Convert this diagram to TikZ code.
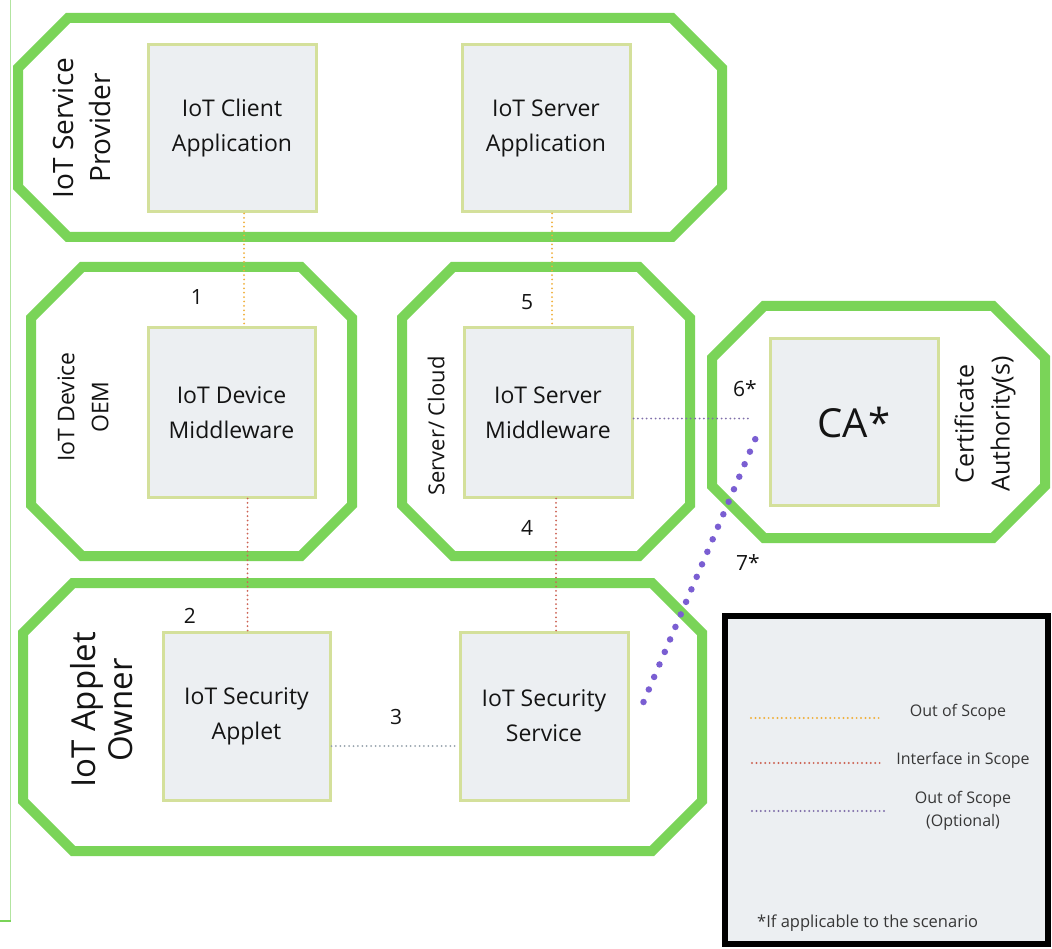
\documentclass[tikz,border=0pt]{standalone}
\usepackage{fontspec}
\setmainfont{Open Sans}
\usetikzlibrary{calc}

\definecolor{zonegreen}{RGB}{122,212,88}
\definecolor{edgegreen}{RGB}{178,228,160}
\definecolor{boxfill}{RGB}{236,239,242}
\definecolor{boxedge}{RGB}{212,224,155}
\definecolor{inkdark}{RGB}{20,20,20}
\definecolor{outscope}{RGB}{240,176,60}
\definecolor{inscope}{RGB}{205,100,85}
\definecolor{peerlink}{RGB}{150,162,172}
\definecolor{optthin}{RGB}{128,112,170}
\definecolor{optthick}{RGB}{122,94,210}

% octagonal zone outline: left, top, right, bottom, corner cut
\newcommand{\zoneoct}[5]{%
  \draw[zone] (#1+#5,#2) -- (#3-#5,#2) -- (#3,#2+#5) -- (#3,#4-#5)
    -- (#3-#5,#4) -- (#1+#5,#4) -- (#1,#4-#5) -- (#1,#2+#5) -- cycle;}

\begin{document}
\begin{tikzpicture}[x=1pt,y=-1pt,
  zone/.style={draw=zonegreen, line width=10pt, line join=miter},
  unit/.style={draw=boxedge, fill=boxfill, line width=3pt,
    minimum width=168pt, minimum height=168pt, align=center,
    text=inkdark, inner sep=0pt, font=\fontsize{23}{35}\selectfont},
  zonelabel/.style={rotate=90, align=center, text=inkdark, inner sep=0pt},
  num/.style={text=inkdark, inner sep=0pt, font=\fontsize{21}{25}\selectfont},
  dots/.style={line width=2pt, line cap=round, dash pattern=on 0pt off 4.4pt},
  outlink/.style={dots, draw=outscope},
  inlink/.style={dots, draw=inscope},
  peer/.style={dots, draw=peerlink},
  optlink/.style={dots, draw=optthin},
  optbold/.style={draw=optthick, line width=6.5pt, line cap=round,
    dash pattern=on 0pt off 13.6pt},
  legtext/.style={text=inkdark!85, inner sep=0pt, align=center,
    font=\fontsize{16}{23}\selectfont}]

\useasboundingbox[fill=white] (0,0) rectangle (1052,949);

% thin frame line at the left margin
\coordinate (frameTop) at (10.5,0);
\coordinate (frameCorner) at (10.5,921);
\coordinate (frameEnd) at (0,921);
\draw[edgegreen, line width=1.5pt] (frameTop) -- (frameCorner);
\draw[zonegreen, line width=2pt] (frameCorner) -- (frameEnd);

% zones
\zoneoct{18}{18}{722}{237}{50}
\zoneoct{31}{267}{352}{556}{51}
\zoneoct{402}{267}{690}{556}{51}
\zoneoct{712}{306}{1045}{538}{52}
\zoneoct{23}{583}{702}{851}{50}

% zone labels
\node[zonelabel, font=\fontsize{28}{37}\selectfont] (zsp) at (82,128) {IoT Service\\Provider};
\node[zonelabel, font=\fontsize{23}{34}\selectfont] (zoem) at (83,407) {IoT Device\\OEM};
\node[zonelabel, font=\fontsize{22}{30}\selectfont] (zcloud) at (436,426) {Server/ Cloud};
\node[zonelabel, font=\fontsize{25}{36}\selectfont] (zca) at (985,424) {Certificate\\Authority(s)};
\node[zonelabel, font=\fontsize{33}{37}\selectfont] (zowner) at (102,710) {IoT Applet\\Owner};

% components
\node[unit, minimum height=167pt] (client) at (232,128.5) {IoT Client\\Application};
\node[unit, minimum height=167pt] (servapp) at (546,128.5) {IoT Server\\Application};
\node[unit, minimum width=167pt, minimum height=169pt] (devmw) at (231.5,412.5) {IoT Device\\Middleware};
\node[unit, minimum height=169pt] (servmw) at (548,412.5) {IoT Server\\Middleware};
\node[unit, minimum height=166pt, font=\fontsize{40}{44}\selectfont] (ca) at (854,422) {CA*};
\node[unit, minimum width=167pt] (applet) at (246.5,716) {IoT Security\\Applet};
\node[unit] (service) at (544,716) {IoT Security\\Service};

% interfaces
\draw[outlink] ([xshift=12pt]client.south) -- ([xshift=12pt]client.south |- devmw.north);
\draw[outlink] ([xshift=6pt]servapp.south) -- ([xshift=6pt]servapp.south |- servmw.north);
\draw[inlink] ([xshift=16pt]devmw.south) -- ([xshift=16pt]devmw.south |- applet.north);
\draw[inlink] ([xshift=12pt]service.north) -- ([xshift=12pt]service.north |- servmw.south);
\draw[peer] ([yshift=-30pt]applet.east) -- ([yshift=-30pt]service.west);
\coordinate (caLinkEnd) at (752,418.5);
\draw[optlink] ([yshift=-6pt]servmw.east) -- (caLinkEnd);
\coordinate (caOptEnd) at (760,428);
\draw[optbold] ([xshift=14pt,yshift=14pt]service.east) -- (caOptEnd);

% interface numbers
\node[num] (n1) at (197,297) {1};
\node[num] (n2) at (190,616) {2};
\node[num] (n3) at (396,717) {3};
\node[num] (n4) at (527,528) {4};
\node[num] (n5) at (527,302) {5};
\node[num] (n6) at (745,389) {6*};
\node[num] (n7) at (748,563) {7*};

% legend
\draw[black, line width=6.5pt, fill=boxfill] (725,616) rectangle (1048,944);
\coordinate (lgA1) at (751,718); \coordinate (lgA2) at (881,718);
\coordinate (lgB1) at (752,763); \coordinate (lgB2) at (880,763);
\coordinate (lgC1) at (752,811); \coordinate (lgC2) at (888,811);
\draw[outlink, line width=2.2pt] (lgA1) -- (lgA2);
\draw[inlink, line width=2.2pt] (lgB1) -- (lgB2);
\draw[optlink, line width=2.2pt] (lgC1) -- (lgC2);
\node[legtext] (lgAt) at (958,712) {Out of Scope};
\node[legtext] (lgBt) at (963,760) {Interface in Scope};
\node[legtext] (lgCt) at (963,811) {Out of Scope\\(Optional)};
\node[legtext, anchor=west, font=\fontsize{16.5}{20}\selectfont] (lgNote) at (757,923) {*If applicable to the scenario};

\end{tikzpicture}
\end{document}
